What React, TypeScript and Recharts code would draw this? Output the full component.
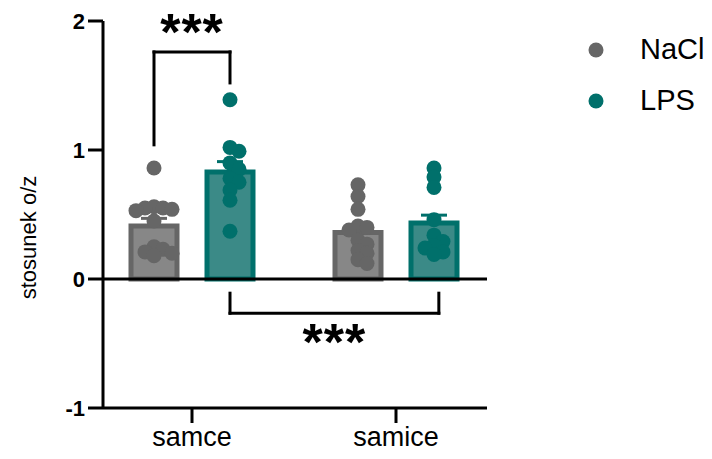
import React from 'react';
import {
  ComposedChart,
  Bar,
  Scatter,
  XAxis,
  YAxis,
  ReferenceLine,
  ErrorBar,
  Legend,
  Label,
} from 'recharts';

// ---------- data ----------
const groups = ['samce', 'samice'];
const seriesNames = ['NaCl', 'LPS'];
const naclMeans = [0.41, 0.36];
const lpsMeans = [0.83, 0.435];
const naclSem = [0.06, 0.05];
const lpsSem = [0.08, 0.06];
const naclSamce = [0.86, 0.56, 0.55, 0.55, 0.54, 0.53, 0.45, 0.25, 0.23, 0.21, 0.2, 0.18];
const lpsSamce = [1.39, 1.02, 0.99, 0.9, 0.85, 0.78, 0.75, 0.69, 0.61, 0.37];
const naclSamice = [0.73, 0.64, 0.54, 0.41, 0.4, 0.38, 0.3, 0.27, 0.22, 0.2, 0.15, 0.12];
const lpsSamice = [0.86, 0.79, 0.71, 0.46, 0.34, 0.29, 0.26, 0.24, 0.21, 0.19];
const yTicks = [-1, 0, 1, 2];
const significance = ['***', '***'];

// ---------- styles ----------
const FONT = '"Liberation Sans", Arial, sans-serif';
const COLORS: Record<string, { dot: string; fill: string; stroke: string }> = {
  NaCl: { dot: '#666666', fill: '#878787', stroke: '#666666' },
  LPS: { dot: '#00706b', fill: '#3b8a87', stroke: '#00706b' },
};
const BAR_SIZE = 46;
const BAR_GAP = 30;
const BAND_PX = 204;
const Y_PX = 129;
const DOT_R = 7.5;
const SERIES_OFFSET = (BAR_SIZE + BAR_GAP) / 2 / BAND_PX;

const barData = groups.map((g, i) => ({
  group: g,
  NaCl: naclMeans[i],
  LPS: lpsMeans[i],
  naclErr: [0, naclSem[i]],
  lpsErr: [0, lpsSem[i]],
}));

// deterministic beeswarm layout (pixel-space collision avoidance)
function swarm(values: number[], center: number) {
  const sorted = [...values].sort((a, b) => b - a);
  const placed: { x: number; y: number; v: number }[] = [];
  const step = 9;
  const minDist = 9;
  const candidates = [0];
  for (let i = 1; i < 8; i++) candidates.push(i * step, -i * step);
  for (const v of sorted) {
    const py = v * Y_PX;
    let off = 0;
    for (const c of candidates) {
      if (placed.every((p) => Math.hypot(p.x - c, p.y - py) >= minDist)) {
        off = c;
        break;
      }
    }
    placed.push({ x: off, y: py, v });
  }
  return placed.map((p) => ({ x: center + p.x / BAND_PX, y: p.v }));
}

const naclPts = [
  ...swarm(naclSamce, 0 - SERIES_OFFSET),
  ...swarm(naclSamice, 1 - SERIES_OFFSET),
];
const lpsPts = [
  ...swarm(lpsSamce, 0 + SERIES_OFFSET),
  ...swarm(lpsSamice, 1 + SERIES_OFFSET),
];

// bracket definitions (x in group units, y in data units)
const topBracket = { x1: -SERIES_OFFSET, x2: SERIES_OFFSET, y: 1.76, yLeft: 1.04, yRight: 1.52 };
const bottomBracket = { x1: SERIES_OFFSET, x2: 1.21, y: -0.265, yEnd: -0.11 };

const dot = (color: string) => (props: any) => (
  <circle cx={props.cx} cy={props.cy} r={DOT_R} fill={color} />
);

const starsLabel = (pos: 'top' | 'bottom') => (props: any) => {
  const vb = props.viewBox || {};
  const x = vb.x + (vb.width || 0) / 2;
  const y = pos === 'top' ? vb.y - 2 : vb.y + 47;
  return (
    <text
      x={x}
      y={y}
      textAnchor="middle"
      fontFamily={FONT}
      fontWeight="bold"
      fontSize={52}
      fill="#000"
      style={{ letterSpacing: 1 }}
    >
      {significance[pos === 'top' ? 0 : 1]}
    </text>
  );
};

const LegendContent = () => (
  <div style={{ fontFamily: FONT }}>
    {seriesNames.map((n) => (
      <div key={n} style={{ display: 'flex', alignItems: 'center', height: 51 }}>
        <svg width={60} height={20} style={{ display: 'block' }}>
          <circle cx={16} cy={10} r={DOT_R} fill={COLORS[n].dot} />
        </svg>
        <span style={{ fontSize: 29, color: '#000', lineHeight: '29px' }}>{n}</span>
      </div>
    ))}
  </div>
);

const axisTickStyle = { fontFamily: FONT, fontSize: 22, fill: '#000' };

export default function App() {
  return (
    <div style={{ position: 'absolute', left: 0, top: 0, width: 712, height: 459, background: '#fff' }}>
      <ComposedChart
        width={712}
        height={459}
        data={barData}
        margin={{ top: 21, right: 225, bottom: 11, left: 33 }}
        barGap={BAR_GAP}
      >
        <XAxis
          xAxisId="cat"
          dataKey="group"
          type="category"
          padding={{ left: -13, right: -11 }}
          height={40}
          tickSize={15}
          tickMargin={4}
          axisLine={{ stroke: '#000', strokeWidth: 3 }}
          tickLine={{ stroke: '#000', strokeWidth: 3 }}
          tick={{ ...axisTickStyle, fontSize: 27 }}
        />
        <XAxis
          xAxisId="num"
          type="number"
          dataKey="x"
          domain={[-0.5, 1.5]}
          padding={{ left: -13, right: -11 }}
          allowDataOverflow
          hide
        />
        <YAxis
          type="number"
          domain={[-1, 2]}
          ticks={yTicks}
          width={70}
          tickSize={15}
          tickMargin={3}
          allowDataOverflow
          axisLine={{ stroke: '#000', strokeWidth: 3 }}
          tickLine={{ stroke: '#000', strokeWidth: 3 }}
          tick={{ ...axisTickStyle, fontWeight: 'bold' }}
        >
          <Label
            content={(p: any) => {
              const vb = p.viewBox || {};
              const cx = 28;
              const cy = vb.y + vb.height / 2 + 23;
              return (
                <text
                  x={cx}
                  y={cy}
                  transform={`rotate(-90, ${cx}, ${cy})`}
                  textAnchor="middle"
                  dominantBaseline="central"
                  fontFamily={FONT}
                  fontSize={22}
                  fill="#000"
                >
                  stosunek o/z
                </text>
              );
            }}
          />
        </YAxis>
        <ReferenceLine y={0} xAxisId="cat" stroke="#000" strokeWidth={3} />
        <Bar
          xAxisId="cat"
          dataKey="NaCl"
          name="NaCl"
          barSize={BAR_SIZE}
          fill={COLORS.NaCl.fill}
          stroke={COLORS.NaCl.stroke}
          strokeWidth={5}
          isAnimationActive={false}
        >
          <ErrorBar dataKey="naclErr" direction="y" width={13} stroke={COLORS.NaCl.stroke} strokeWidth={3} />
        </Bar>
        <Bar
          xAxisId="cat"
          dataKey="LPS"
          name="LPS"
          barSize={BAR_SIZE}
          fill={COLORS.LPS.fill}
          stroke={COLORS.LPS.stroke}
          strokeWidth={5}
          isAnimationActive={false}
        >
          <ErrorBar dataKey="lpsErr" direction="y" width={13} stroke={COLORS.LPS.stroke} strokeWidth={3} />
        </Bar>
        <Scatter
          xAxisId="num"
          name="NaCl"
          data={naclPts}
          dataKey="y"
          shape={dot(COLORS.NaCl.dot)}
          isAnimationActive={false}
          legendType="none"
        />
        <Scatter
          xAxisId="num"
          name="LPS"
          data={lpsPts}
          dataKey="y"
          shape={dot(COLORS.LPS.dot)}
          isAnimationActive={false}
          legendType="none"
        />
        {/* top bracket */}
        <ReferenceLine
          xAxisId="num"
          segment={[{ x: topBracket.x1, y: topBracket.y }, { x: topBracket.x2, y: topBracket.y }]}
          stroke="#000"
          strokeWidth={3}
          strokeLinecap="square"
          label={starsLabel('top')}
        />
        <ReferenceLine
          xAxisId="num"
          segment={[{ x: topBracket.x1, y: topBracket.y }, { x: topBracket.x1, y: topBracket.yLeft }]}
          stroke="#000"
          strokeWidth={3}
          strokeLinecap="square"
        />
        <ReferenceLine
          xAxisId="num"
          segment={[{ x: topBracket.x2, y: topBracket.y }, { x: topBracket.x2, y: topBracket.yRight }]}
          stroke="#000"
          strokeWidth={3}
          strokeLinecap="square"
        />
        {/* bottom bracket */}
        <ReferenceLine
          xAxisId="num"
          segment={[{ x: bottomBracket.x1, y: bottomBracket.y }, { x: bottomBracket.x2, y: bottomBracket.y }]}
          stroke="#000"
          strokeWidth={3}
          strokeLinecap="square"
          label={starsLabel('bottom')}
        />
        <ReferenceLine
          xAxisId="num"
          segment={[{ x: bottomBracket.x1, y: bottomBracket.y }, { x: bottomBracket.x1, y: bottomBracket.yEnd }]}
          stroke="#000"
          strokeWidth={3}
          strokeLinecap="square"
        />
        <ReferenceLine
          xAxisId="num"
          segment={[{ x: bottomBracket.x2, y: bottomBracket.y }, { x: bottomBracket.x2, y: bottomBracket.yEnd }]}
          stroke="#000"
          strokeWidth={3}
          strokeLinecap="square"
        />
        <Legend
          layout="vertical"
          align="center"
          verticalAlign="middle"
          wrapperStyle={{ position: 'absolute', left: 580, top: 24, width: 132, height: 110 }}
          content={LegendContent}
        />
      </ComposedChart>
    </div>
  );
}
